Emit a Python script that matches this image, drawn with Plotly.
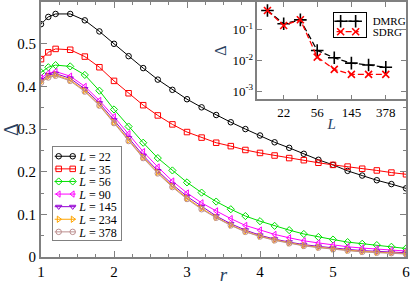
import plotly.graph_objects as go

r = [1.0, 1.1, 1.2, 1.4, 1.6, 1.8, 2.0, 2.2, 2.4, 2.6, 2.8, 3.0, 3.2, 3.4, 3.6, 3.8,
     4.0, 4.2, 4.4, 4.6, 4.8, 5.0, 5.2, 5.4, 5.6, 5.8, 6.0]

gap_L22 = [0.546, 0.563, 0.570, 0.570, 0.555, 0.529, 0.500, 0.471, 0.443, 0.416, 0.392, 0.370,
           0.351, 0.333, 0.316, 0.300, 0.285, 0.269, 0.256, 0.242, 0.228, 0.216, 0.202, 0.191,
           0.180, 0.171, 0.161]
gap_L35 = [0.464, 0.480, 0.488, 0.486, 0.470, 0.445, 0.413, 0.384, 0.356, 0.332, 0.311, 0.293,
           0.280, 0.268, 0.260, 0.251, 0.244, 0.238, 0.232, 0.227, 0.221, 0.216, 0.212, 0.207,
           0.203, 0.198, 0.194]
gap_L56 = [0.433, 0.445, 0.450, 0.447, 0.427, 0.390, 0.346, 0.306, 0.268, 0.232, 0.203, 0.175,
           0.151, 0.130, 0.112, 0.096, 0.084, 0.073, 0.063, 0.054, 0.047, 0.041, 0.035, 0.031,
           0.028, 0.024, 0.020]
gap_L90 = [0.420, 0.431, 0.435, 0.424, 0.400, 0.367, 0.329, 0.289, 0.247, 0.211, 0.178, 0.150,
           0.127, 0.108, 0.090, 0.074, 0.063, 0.053, 0.045, 0.038, 0.033, 0.028, 0.024, 0.021,
           0.019, 0.016, 0.014]
gap_L145 = [0.415, 0.427, 0.430, 0.419, 0.394, 0.361, 0.321, 0.279, 0.238, 0.202, 0.170, 0.142,
            0.118, 0.096, 0.078, 0.063, 0.051, 0.042, 0.035, 0.029, 0.025, 0.021, 0.018, 0.015,
            0.013, 0.011, 0.010]
gap_L234 = [0.411, 0.423, 0.427, 0.415, 0.390, 0.357, 0.316, 0.274, 0.234, 0.198, 0.166, 0.138,
            0.114, 0.093, 0.075, 0.060, 0.049, 0.040, 0.033, 0.027, 0.023, 0.019, 0.016, 0.013,
            0.011, 0.010, 0.008]
gap_L378 = [0.409, 0.421, 0.425, 0.413, 0.388, 0.355, 0.314, 0.272, 0.232, 0.196, 0.164, 0.136,
            0.112, 0.092, 0.074, 0.059, 0.048, 0.039, 0.032, 0.026, 0.022, 0.018, 0.015, 0.012,
            0.010, 0.009, 0.007]

sizes = ["22", "35", "56", "90", "145", "234", "378"]
series = [gap_L22, gap_L35, gap_L56, gap_L90, gap_L145, gap_L234, gap_L378]
colors = ["#000000", "#ff0000", "#00e000", "#ff00ff", "#9400d3", "#ffa500", "#bc8f8f"]
symbols = ["circle-open", "square-open", "diamond-open", "triangle-left-open",
           "triangle-down-open", "triangle-right-open", "circle-open"]

# inset
L_inset = [14, 22, 35, 56, 90, 145, 234, 378]
dmrg = [0.425, 0.157, 0.210, 0.0212, 0.0122, 0.0082, 0.0071, 0.0060]
sdrg = [0.425, 0.138, 0.212, 0.0129, 0.0051, 0.0035, 0.0035, 0.0035]
inset_xticks = [22, 56, 145, 378]
inset_yticks = [1e-3, 1e-2, 1e-1]
inset_yticktext = ["10<sup>-3</sup>", "10<sup>-2</sup>", "10<sup>-1</sup>"]

SERIF = "Liberation Serif"
GRAY = "#808080"

fig = go.Figure()
for lab, ys, c, s in zip(sizes, series, colors, symbols):
    fig.add_trace(go.Scatter(
        x=r, y=ys, mode="lines+markers", name=f"<i>L</i> = {lab}",
        line=dict(color=c, width=1),
        marker=dict(symbol=s, size=5.5, color=c, line=dict(width=1, color=c)),
        xaxis="x", yaxis="y", legend="legend"))

fig.add_trace(go.Scatter(
    x=L_inset, y=dmrg, mode="lines+markers", name="DMRG",
    line=dict(color="black", width=1.3, dash="6px,3px"),
    marker=dict(symbol="cross-thin", size=9, line=dict(width=1.6, color="black")),
    xaxis="x2", yaxis="y2", legend="legend2"))
fig.add_trace(go.Scatter(
    x=L_inset, y=sdrg, mode="lines+markers", name="SDRG",
    line=dict(color="red", width=1.3, dash="6px,3px"),
    marker=dict(symbol="x-thin", size=7, line=dict(width=1.6, color="red")),
    xaxis="x2", yaxis="y2", legend="legend2"))

axis_common = dict(showline=True, linecolor=GRAY, linewidth=2, mirror="ticks",
                   ticks="inside", tickcolor=GRAY, tickwidth=1, showgrid=False, zeroline=False,
                   automargin=False,
                   tickfont=dict(family=SERIF, size=15, color="black"))

fig.update_layout(
    width=411, height=285,
    margin=dict(l=41, r=5, t=2, b=28, autoexpand=False),
    paper_bgcolor="white", plot_bgcolor="white",
    xaxis=dict(range=[1, 6], tickvals=[1, 2, 3, 4, 5, 6], ticklen=6,
               minor=dict(ticks="inside", dtick=0.25, ticklen=3, tickcolor=GRAY),
               title=dict(text="<i>r</i>", font=dict(family=SERIF, size=19), standoff=0),
               domain=[0, 1], **axis_common),
    yaxis=dict(range=[0, 0.598], tickvals=[0, 0.1, 0.2, 0.3, 0.4, 0.5], ticklen=6,
               minor=dict(ticks="inside", dtick=0.05, ticklen=3, tickcolor=GRAY),
               title=dict(text="Δ", font=dict(family=SERIF, size=20), standoff=2),
               domain=[0, 1], **axis_common),
    xaxis2=dict(type="log", range=[1.025, 2.822], tickvals=inset_xticks,
                ticktext=[str(v) for v in inset_xticks], anchor="y2", domain=[0.593, 1.0],
                showline=True, linecolor=GRAY, linewidth=1.5, mirror="ticks",
                ticks="inside", ticklen=5, tickcolor=GRAY, showgrid=False, zeroline=False,
                automargin=False,
                tickfont=dict(family=SERIF, size=13, color="black"),
                title=dict(text="<i>L</i>", font=dict(family=SERIF, size=15), standoff=0)),
    yaxis2=dict(type="log", range=[-3.27, -0.094], tickvals=inset_yticks,
                ticktext=inset_yticktext, anchor="x2", domain=[0.618, 1.0],
                showline=True, linecolor=GRAY, linewidth=1.5, mirror="ticks",
                ticks="inside", ticklen=5, tickcolor=GRAY, showgrid=False, zeroline=False,
                automargin=False,
                tickfont=dict(family=SERIF, size=13, color="black"),
                title=dict(text="Δ", font=dict(family=SERIF, size=16), standoff=2)),
    legend=dict(x=0.0293, y=0.437, xanchor="left", yanchor="top",
                bgcolor="white", bordercolor=GRAY, borderwidth=1.5,
                font=dict(family=SERIF, size=12, color="black"),
                tracegroupgap=0, itemwidth=30),
    legend2=dict(x=0.799, y=0.96, xanchor="left", yanchor="top",
                 bgcolor="white", bordercolor="black", borderwidth=1,
                 font=dict(family=SERIF, size=11, color="black"),
                 tracegroupgap=0, itemwidth=30),
    showlegend=True,
)

# remove the page margin, then compact legend rows in the xmgrace style
post = r"""
document.body.style.margin = '0';
document.body.style.overflow = 'hidden';
var gd = document.getElementById('{plot_id}');
function squeeze(cls, step, first, lastPad, lineA, lineB, m1, m2, textX, padR) {
  var leg = gd.querySelector('g.' + cls);
  if (!leg) return;
  var items = leg.querySelectorAll('g.traces');
  var maxW = 0;
  items.forEach(function (it, i) {
    it.setAttribute('transform', 'translate(0,' + (first + i * step) + ')');
    it.querySelectorAll('path.js-line').forEach(function (p) {
      p.setAttribute('d', 'M' + lineA + ',0h' + (lineB - lineA));
    });
    it.querySelectorAll('path.scatterpts').forEach(function (p) {
      p.setAttribute('transform', 'translate(' + m1 + ',0)');
      var c = p.cloneNode(true);
      c.setAttribute('transform', 'translate(' + m2 + ',0)');
      p.parentNode.appendChild(c);
    });
    var t = it.querySelector('text.legendtext');
    if (t) {
      t.setAttribute('x', textX);
      t.querySelectorAll('tspan[x]').forEach(function (s) { s.setAttribute('x', textX); });
      var w = t.getComputedTextLength();
      if (w > maxW) maxW = w;
    }
    var tg = it.querySelector('rect.legendtoggle');
    if (tg) { tg.setAttribute('height', step); tg.setAttribute('y', -step / 2); }
  });
  var bg = leg.querySelector('rect.bg');
  if (bg) {
    bg.setAttribute('height', first + (items.length - 1) * step + lastPad);
    bg.setAttribute('width', textX + maxW + padR);
  }
}
squeeze('legend', 12.6, 10.7, 8, 3, 24, 7, 21, 27.5, 4);
squeeze('legend2', 10.5, 9, 5, 4, 26, 8, 23, 30, 3);
"""

fig.write_html("out.html", post_script=post, config={"displayModeBar": False})
